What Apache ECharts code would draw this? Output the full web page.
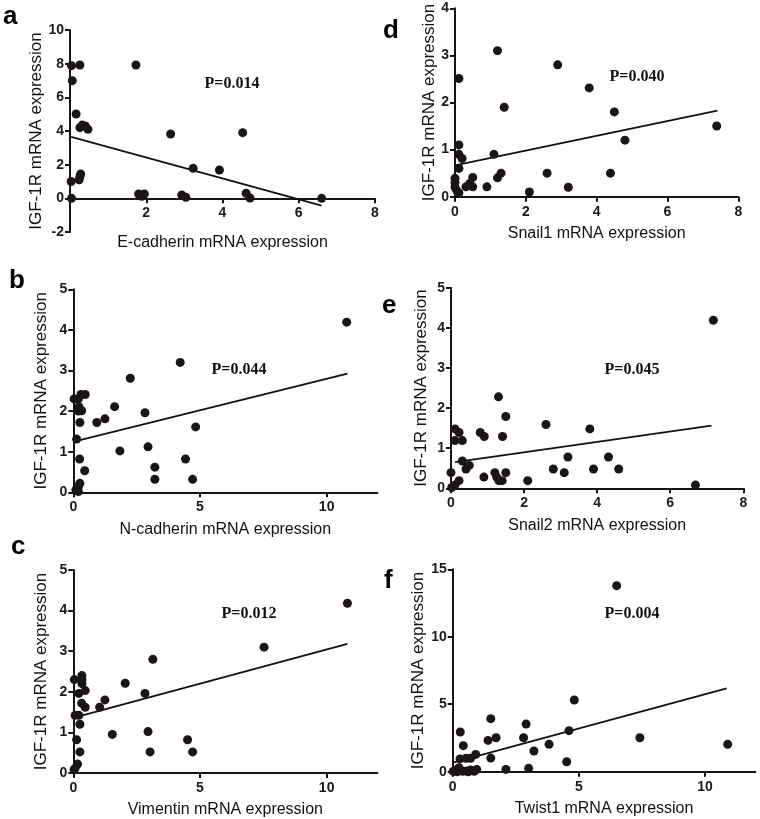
<!DOCTYPE html>
<html>
<head>
<meta charset="utf-8">
<script src="https://cdn.jsdelivr.net/npm/echarts@6/dist/echarts.min.js"></script>
<style>
html,body{margin:0;padding:0;background:#fff;}
#chart{width:760px;height:819px;}
</style>
</head>
<body>
<div id="chart"></div>
<script>
// ---- Data ----
const yName = 'IGF-1R mRNA expression';
const panelLetters = ['a', 'd', 'b', 'e', 'c', 'f'];
const xNames = ['E-cadherin mRNA expression', 'Snail1 mRNA expression', 'N-cadherin mRNA expression',
                'Snail2 mRNA expression', 'Vimentin mRNA expression', 'Twist1 mRNA expression'];
const pValues = ['P=0.014', 'P=0.040', 'P=0.044', 'P=0.045', 'P=0.012', 'P=0.004'];

const ecadPts = [[0.04,7.88],[0.26,7.92],[0.06,6.99],[0.16,5.01],[0.26,4.2],[0.32,4.35],[0.4,4.3],[0.47,4.1],
  [0.28,1.45],[0.26,1.3],[0.24,1.1],[0.03,1.0],[0.04,0],[1.73,7.92],[2.64,3.82],[4.53,3.9],[3.23,1.78],
  [3.92,1.68],[1.8,0.26],[1.95,0.26],[1.88,0.12],[2.93,0.2],[3.04,0.06],[4.62,0.3],[4.72,0.02],[6.6,0]];
const ecadFit = [[0.03,3.65],[6.6,-0.44]];

const snail1Pts = [[1.2,3.1],[2.9,2.8],[0.11,2.51],[3.79,2.31],[1.39,1.9],[4.5,1.8],[7.39,1.5],[4.8,1.2],
  [0.11,1.1],[0.11,0.9],[0.2,0.81],[1.1,0.9],[0.11,0.6],[0,0.39],[0,0.3],[0,0.2],[0.05,0.13],[0.11,0.08],
  [1.3,0.5],[1.2,0.4],[2.6,0.5],[4.39,0.5],[3.2,0.2],[2.1,0.1],[0.9,0.21],[0.31,0.21],[0.42,0.28],[0.5,0.41],[0.5,0.21]];
const snail1Fit = [[0.03,0.67],[7.41,1.83]];

const ncadPts = [[10.79,4.19],[4.22,3.2],[2.25,2.81],[0.03,2.3],[0.3,2.41],[0.47,2.41],[0.2,2.3],[0.22,2.11],
  [0.33,2.01],[0.2,2.0],[1.63,2.11],[1.25,1.81],[0.93,1.72],[0.26,1.72],[2.83,1.96],[4.83,1.61],[0.13,1.31],
  [1.84,1.02],[2.95,1.12],[0.25,0.82],[4.43,0.82],[0.45,0.53],[3.22,0.62],[3.22,0.32],[4.71,0.32],[0.26,0.22],
  [0.2,0.14],[0.1,0.06],[0.2,0.02]];
const ncadFit = [[0.1,1.26],[10.82,2.92]];

const snail2Pts = [[7.18,4.19],[1.3,2.28],[1.5,1.79],[2.6,1.59],[3.8,1.48],[0.11,1.48],[0.22,1.39],[0.11,1.19],
  [0.31,1.19],[0.8,1.39],[0.91,1.29],[1.41,1.29],[0.31,0.68],[0.41,0.48],[0.5,0.57],[0,0.39],[0.9,0.28],
  [1.2,0.39],[1.25,0.28],[1.31,0.19],[1.4,0.19],[1.5,0.39],[2.1,0.19],[2.8,0.48],[3.1,0.39],[3.2,0.78],
  [3.9,0.48],[4.31,0.78],[4.59,0.48],[6.69,0.08],[0.22,0.19],[0.11,0.08],[0.02,0.02]];
const snail2Fit = [[0.11,0.65],[7.13,1.56]];

const vimPts = [[10.82,4.18],[7.53,3.1],[3.14,2.8],[2.05,2.21],[2.83,1.96],[1.25,1.8],[1.04,1.62],[0.04,2.3],
  [0.34,2.4],[0.34,2.3],[0.34,2.2],[0.22,1.96],[0.47,2.03],[0.33,1.72],[0.47,1.62],[0.07,1.42],[0.22,1.42],
  [0.26,1.2],[1.54,0.95],[2.95,1.02],[4.51,0.82],[3.03,0.52],[4.71,0.52],[0.13,0.82],[0.26,0.52],[0.17,0.22],
  [0.07,0.12],[0.03,0.08]];
const vimFit = [[0.07,1.37],[10.82,3.18]];

const twistPts = [[6.5,13.79],[4.82,5.31],[1.51,3.93],[2.91,3.53],[0.3,2.94],[4.61,3.04],[1.4,2.32],[1.72,2.52],
  [2.81,2.52],[3.82,2.03],[7.42,2.52],[10.9,2.03],[0.42,1.93],[3.22,1.53],[1.51,1.01],[4.52,0.74],[0.29,0.95],
  [0.53,1.0],[0.71,1.0],[0.91,1.28],[3.01,0.25],[2.11,0.17],[0.95,0.17],[0.02,0.02],[0.12,0.1],[0.25,0.3],
  [0.4,0.03],[0.55,0.05],[0.7,0.12],[0.85,0.03],[0.3,0.1],[0.18,0.0],[0.62,0.0]];
const twistFit = [[0.05,0.69],[10.86,6.18]];

const xMin = [0, 0, 0, 0, 0, 0];
const xMax = [8, 8, 12, 8, 12, 12];
const xStep = [2, 2, 5, 2, 5, 5];
const xTicks = [[2, 4, 6, 8], [0, 2, 4, 6, 8], [0, 5, 10], [0, 2, 4, 6, 8], [0, 5, 10], [0, 5, 10]];
const yMin = [-2, 0, 0, 0, 0, 0];
const yMax = [10, 4, 5, 5, 5, 15];
const yStep = [2, 1, 1, 1, 1, 5];

const allPts = [ecadPts, snail1Pts, ncadPts, snail2Pts, vimPts, twistPts];
const allFits = [ecadFit, snail1Fit, ncadFit, snail2Fit, vimFit, twistFit];

// ---- Layout (pixels) ----
const grids = [
  {left: 70, top: 30, width: 305, height: 202},
  {left: 455, top: 8.3, width: 283.3, height: 188.4},
  {left: 73.3, top: 289.3, width: 304, height: 203},
  {left: 451, top: 287.7, width: 292.3, height: 200.6},
  {left: 73.3, top: 570, width: 304, height: 203.3},
  {left: 452.7, top: 569.3, width: 302.7, height: 202.4}
];
// x axis drawn at y = 0: shift the bottom axis up by the pixel distance from yMin to 0
const xOffset = grids.map((g, i) => -((0 - yMin[i]) / (yMax[i] - yMin[i])) * g.height);
const xNameGap = [36, 29, 29, 29, 29, 29];
const yNameGap = [23, 13, 23, 21, 23, 23];
const letterPos = [[3, 23], [383, 37], [9, 287], [382, 312], [11, 553], [384, 587]];
const pPos = [[232, 84], [637, 77], [239, 370], [632, 370], [249, 614], [632, 614]];

const INK = '#1b1517';
const AXIS = '#151515';
const sans = 'Liberation Sans, Arial, sans-serif';

const option = {
  animation: false,
  backgroundColor: '#fff',
  grid: grids.map(g => Object.assign({containLabel: false}, g)),
  xAxis: grids.map((g, i) => ({
    type: 'value', gridIndex: i, min: xMin[i], max: xMax[i], interval: xStep[i],
    position: 'bottom', offset: xOffset[i],
    name: xNames[i], nameLocation: 'middle', nameGap: xNameGap[i],
    nameTextStyle: {fontFamily: sans, fontSize: 16, color: '#111'},
    axisLine: {show: true, onZero: false, lineStyle: {color: AXIS, width: 2}},
    axisTick: {show: true, length: 5, customValues: xTicks[i], lineStyle: {color: AXIS, width: 2}},
    axisLabel: {fontFamily: sans, fontSize: 14, fontWeight: 'bold', color: '#1a1a1a', margin: 8,
                customValues: xTicks[i]},
    splitLine: {show: false}
  })),
  yAxis: grids.map((g, i) => ({
    type: 'value', gridIndex: i, min: yMin[i], max: yMax[i], interval: yStep[i],
    name: yName, nameLocation: 'middle', nameGap: yNameGap[i], nameRotate: 90,
    nameTextStyle: {fontFamily: sans, fontSize: 17, color: '#111'},
    axisLine: {show: true, onZero: false, lineStyle: {color: AXIS, width: 2}},
    axisTick: {show: true, length: 5, lineStyle: {color: AXIS, width: 2}},
    axisLabel: {fontFamily: sans, fontSize: 14, fontWeight: 'bold', color: '#1a1a1a', margin: 6},
    splitLine: {show: false}
  })),
  series: [].concat(
    allPts.map((pts, i) => ({
      type: 'scatter', xAxisIndex: i, yAxisIndex: i, data: pts,
      symbol: 'circle', symbolSize: 9, clip: false,
      itemStyle: {color: INK, opacity: 1}, z: 3
    })),
    allFits.map((fit, i) => ({
      type: 'line', xAxisIndex: i, yAxisIndex: i, data: fit,
      symbol: 'none', clip: false,
      lineStyle: {color: '#111', width: 1.8}, z: 2
    }))
  ),
  graphic: [].concat(
    panelLetters.map((t, i) => ({
      type: 'text', left: letterPos[i][0], top: letterPos[i][1] - 19,
      style: {text: t, font: 'bold 26px ' + sans, fill: '#000'}
    })),
    pValues.map((t, i) => ({
      type: 'text', x: pPos[i][0], y: pPos[i][1],
      style: {text: t, font: 'bold 16px Liberation Serif, Times New Roman, serif', fill: '#111',
              align: 'center', verticalAlign: 'middle'}
    }))
  )
};

const chart = echarts.init(document.getElementById('chart'), null, {renderer: 'canvas'});
chart.setOption(option);
</script>
</body>
</html>
